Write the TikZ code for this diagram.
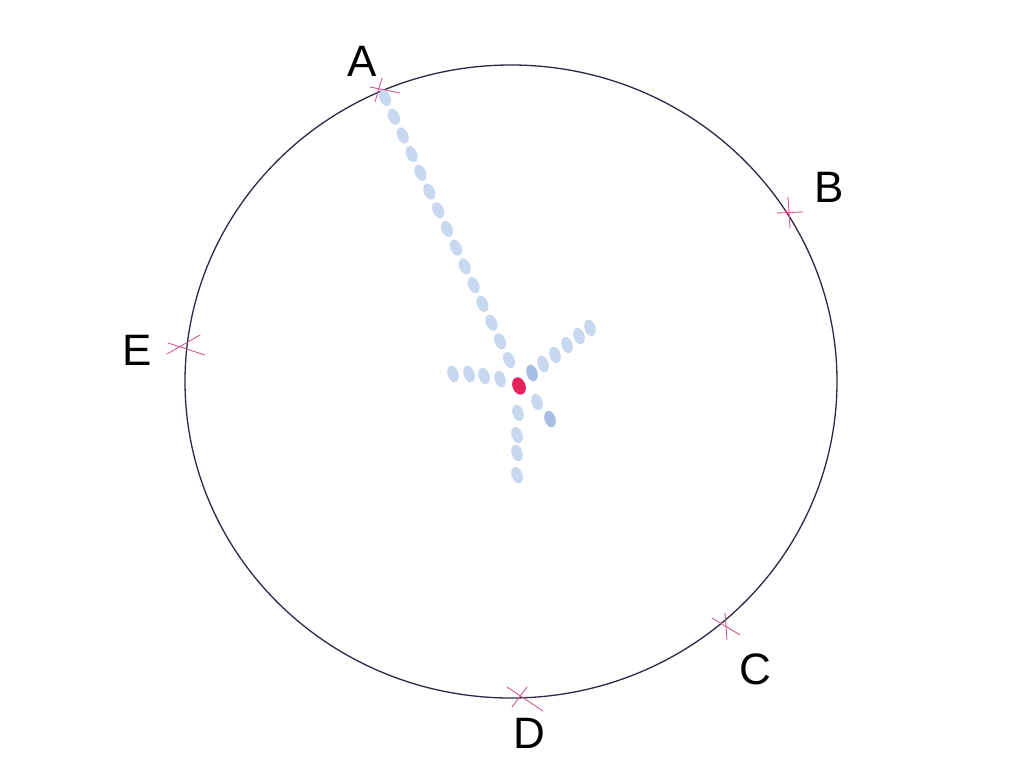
\documentclass[tikz,border=0pt]{standalone}
\usepackage{fontspec}
\setmainfont{Liberation Sans}

\definecolor{rim}{HTML}{2A2A44}
\definecolor{tick}{HTML}{CF5A93}
\definecolor{dotblue}{HTML}{C9D8F1}
\definecolor{dotdark}{HTML}{A9BEE3}
\definecolor{dotred}{HTML}{E6235A}

\begin{document}
\begin{tikzpicture}[x=1pt, y=-1pt,
  lbl/.style={inner sep=0pt, font=\fontsize{44}{44}\selectfont},
  tickline/.style={draw=tick, line width=0.9pt, line cap=round}]
\useasboundingbox (0,0) rectangle (1024,767);

\draw[rim, line width=1.3pt] (511,381.5) ellipse [x radius=326pt, y radius=316.5pt];

% points on the circle
\coordinate (pA) at (380,90);
\coordinate (pB) at (789,213);
\coordinate (pC) at (724,627);
\coordinate (pD) at (519,696);
\coordinate (pE) at (186,346);

\draw[tickline] (pA) ++(-10,-3) -- ++(30,6);
\draw[tickline] (pA) ++(2,-12) -- ++(-7,24);
\draw[tickline] (pB) ++(-12,0) -- ++(26,-1);
\draw[tickline] (pB) ++(-1,-16) -- ++(2,31);
\draw[tickline] (pC) ++(-12,-9) -- ++(28,17);
\draw[tickline] (pC) ++(1,-14) -- ++(2,27);
\draw[tickline] (pD) ++(-12,-9) -- ++(36,24);
\draw[tickline] (pD) ++(-7,11) -- ++(15,-20);
\draw[tickline] (pE) ++(-19,8) -- ++(33,-19);
\draw[tickline] (pE) ++(-18,-3) -- ++(37,12);

\node[lbl] (A) at (362,61) {A};
\node[lbl] (B) at (829,187) {B};
\node[lbl] (C) at (755,669) {C};
\node[lbl] (D) at (529,733) {D};
\node[lbl] (E) at (137,350) {E};

% dotted spokes
\foreach \i in {0,...,14}
  \fill[dotblue, shift={({385+8.857*\i},{98+18.714*\i})}, rotate=-66]
    (0,0) ellipse [x radius=8.5pt, y radius=5.5pt];
\foreach \x/\y/\c in {453/374/dotblue, 469/374/dotblue, 484/376/dotblue, 500/379/dotblue,
    532/373/dotdark, 543/364/dotblue, 555/355/dotblue, 567/345/dotblue, 579/336/dotblue, 590/328/dotblue,
    537/402/dotblue, 550/419/dotdark,
    518/413/dotblue, 517/435/dotblue, 517/453/dotblue, 517/475/dotblue}
  \fill[\c, shift={(\x,\y)}, rotate=-72] (0,0) ellipse [x radius=8.5pt, y radius=5.5pt];
\fill[dotred, shift={(519,386)}, rotate=-68] (0,0) ellipse [x radius=9pt, y radius=6.5pt];
\end{tikzpicture}
\end{document}
